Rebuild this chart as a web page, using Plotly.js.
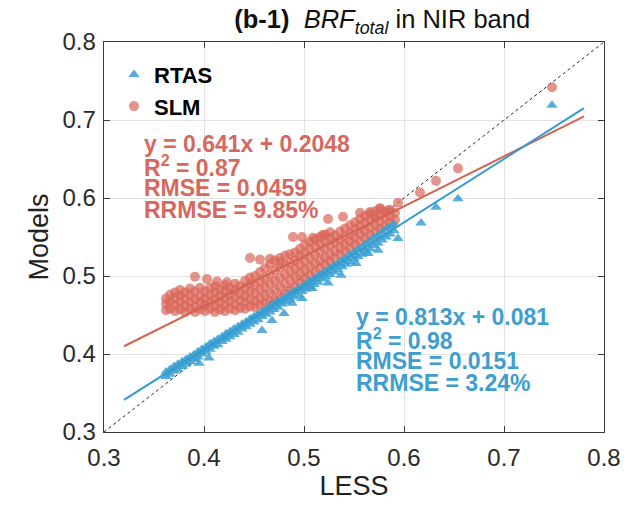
<!DOCTYPE html>
<html>
<head>
<meta charset="utf-8">
<script src="https://cdn.plot.ly/plotly-3.0.1.min.js"></script>
<style>
  html, body { margin: 0; padding: 0; background: #fff; }
  #chart { width: 636px; height: 507px; }
</style>
</head>
<body>
<div id="chart"></div>
<script>
// RTAS model vs LESS reference (NIR band total BRF)
const rtasX = [
  0.362,0.362,0.366,0.366,0.370,0.370,0.374,0.374,0.378,0.378,0.382,0.382,0.386,0.386,0.390,0.390,
  0.394,0.394,0.398,0.398,0.402,0.402,0.406,0.406,0.410,0.410,0.414,0.414,0.418,0.418,0.422,0.422,
  0.426,0.426,0.430,0.430,0.434,0.434,0.438,0.438,0.442,0.442,0.446,0.446,0.450,0.450,0.454,0.454,
  0.458,0.458,0.462,0.462,0.466,0.466,0.470,0.470,0.474,0.474,0.478,0.478,0.482,0.482,0.486,0.486,
  0.490,0.490,0.494,0.494,0.498,0.498,0.502,0.502,0.506,0.506,0.510,0.510,0.514,0.514,0.518,0.518,
  0.522,0.522,0.526,0.526,0.530,0.530,0.534,0.534,0.538,0.538,0.542,0.542,0.546,0.546,0.550,0.550,
  0.554,0.554,0.558,0.558,0.562,0.562,0.566,0.566,0.570,0.570,0.574,0.574,0.578,0.578,0.582,0.582,
  0.586,0.586,0.590,0.590,
  0.395,0.405,0.458,0.468,0.480,0.488,0.498,0.508,0.524,0.537,0.552,0.564,0.574,0.594,0.617,0.632,0.654,0.748
];
const rtasY = [
  0.371,0.377,0.374,0.380,0.378,0.384,0.380,0.387,0.384,0.390,0.387,0.393,0.390,0.396,0.394,0.399,
  0.396,0.403,0.400,0.406,0.403,0.409,0.406,0.413,0.410,0.416,0.412,0.419,0.416,0.422,0.419,0.426,
  0.422,0.429,0.425,0.432,0.428,0.435,0.432,0.438,0.435,0.441,0.438,0.445,0.441,0.448,0.444,0.451,
  0.448,0.454,0.451,0.457,0.454,0.461,0.457,0.464,0.460,0.467,0.464,0.470,0.467,0.473,0.470,0.477,
  0.473,0.480,0.476,0.483,0.480,0.486,0.483,0.490,0.486,0.493,0.489,0.496,0.492,0.500,0.496,0.503,
  0.499,0.506,0.502,0.510,0.505,0.513,0.508,0.516,0.512,0.520,0.515,0.523,0.518,0.527,0.522,0.530,
  0.525,0.534,0.528,0.537,0.532,0.541,0.535,0.545,0.539,0.549,0.542,0.552,0.546,0.556,0.550,0.560,
  0.554,0.563,0.558,0.566,
  0.388,0.395,0.430,0.443,0.452,0.465,0.471,0.484,0.491,0.501,0.516,0.529,0.533,0.548,0.568,0.588,0.599,0.719
];

// SLM model vs LESS reference
const slmX = [
  0.362,0.362,0.362, 0.366,0.366,0.366, 0.371,0.371,0.371,0.371, 0.376,0.376,0.376,0.376,
  0.381,0.381,0.381,0.381, 0.386,0.386,0.386,0.386, 0.391,0.391,0.391,0.391, 0.396,0.396,0.396,0.396,
  0.401,0.401,0.401,0.401, 0.406,0.406,0.406,0.406, 0.411,0.411,0.411,0.411,0.411, 0.416,0.416,0.416,0.416,
  0.421,0.421,0.421,0.421,0.421, 0.426,0.426,0.426,0.426, 0.431,0.431,0.431,0.431,0.431,
  0.436,0.436,0.436,0.436, 0.441,0.441,0.441,0.441,0.441, 0.446,0.446,0.446,0.446,0.446,
  0.451,0.451,0.451,0.451,0.451, 0.456,0.456,0.456,0.456,0.456, 0.461,0.461,0.461,0.461,0.461,
  0.466,0.466,0.466,0.466,0.466, 0.471,0.471,0.471,0.471,0.471, 0.476,0.476,0.476,0.476,0.476,
  0.481,0.481,0.481,0.481,0.481, 0.486,0.486,0.486,0.486,0.486, 0.491,0.491,0.491,0.491,0.491,
  0.496,0.496,0.496,0.496,0.496, 0.501,0.501,0.501,0.501,0.501, 0.506,0.506,0.506,0.506,0.506,
  0.511,0.511,0.511,0.511,0.511, 0.516,0.516,0.516,0.516,0.516, 0.521,0.521,0.521,0.521,0.521,
  0.526,0.526,0.526,0.526,0.526, 0.531,0.531,0.531,0.531, 0.536,0.536,0.536,0.536,
  0.541,0.541,0.541,0.541, 0.546,0.546,0.546,0.546, 0.551,0.551,0.551,0.551, 0.556,0.556,0.556,0.556,
  0.561,0.561,0.561,0.561, 0.566,0.566,0.566,0.566, 0.571,0.571,0.571,0.571, 0.576,0.576,0.576,0.576,
  0.581,0.581,0.581, 0.586,0.586,0.586, 0.591,0.591,
  0.391,0.403,0.413,0.423,0.446,0.456,0.466,0.476,0.489,0.498,0.509,0.519,
  0.524,0.539,0.556,0.566,0.576,0.584,0.570,0.594,0.616,0.632,0.654,0.748
];
const slmY = [
  0.456,0.464,0.471, 0.458,0.467,0.476, 0.455,0.463,0.472,0.479, 0.457,0.466,0.475,0.482,
  0.454,0.462,0.470,0.479, 0.458,0.467,0.476,0.484, 0.454,0.461,0.470,0.480, 0.457,0.466,0.474,0.485,
  0.455,0.463,0.471,0.480, 0.458,0.467,0.476,0.485, 0.454,0.462,0.470,0.479,0.487, 0.457,0.466,0.474,0.483,
  0.455,0.463,0.472,0.481,0.488, 0.458,0.467,0.476,0.485, 0.456,0.464,0.473,0.482,0.490,
  0.459,0.468,0.477,0.487, 0.458,0.466,0.475,0.484,0.494, 0.461,0.470,0.480,0.490,0.498,
  0.460,0.468,0.478,0.488,0.500, 0.463,0.472,0.483,0.494,0.505, 0.465,0.475,0.486,0.497,0.510,
  0.467,0.478,0.490,0.502,0.515, 0.470,0.482,0.494,0.507,0.520, 0.474,0.486,0.498,0.511,0.523,
  0.478,0.490,0.502,0.514,0.526, 0.483,0.495,0.506,0.517,0.528, 0.487,0.499,0.510,0.520,0.530,
  0.492,0.503,0.514,0.525,0.535, 0.497,0.508,0.519,0.530,0.540, 0.501,0.512,0.523,0.534,0.544,
  0.505,0.516,0.527,0.538,0.547, 0.510,0.520,0.531,0.542,0.550, 0.514,0.524,0.535,0.545,0.553,
  0.518,0.528,0.539,0.549,0.556, 0.522,0.532,0.543,0.552, 0.527,0.537,0.547,0.557,
  0.531,0.541,0.551,0.561, 0.535,0.545,0.555,0.565, 0.540,0.550,0.560,0.569, 0.544,0.554,0.564,0.573,
  0.548,0.558,0.568,0.577, 0.552,0.562,0.572,0.580, 0.556,0.566,0.575,0.583, 0.560,0.570,0.579,0.586,
  0.564,0.574,0.582, 0.568,0.577,0.585, 0.572,0.581,
  0.499,0.496,0.493,0.492,0.523,0.521,0.522,0.518,0.550,0.550,0.549,0.553,
  0.573,0.576,0.581,0.582,0.587,0.584,0.578,0.594,0.607,0.622,0.638,0.742
];

// least-squares fits as reported for each model
const fitSlope = { rtas: 0.813, slm: 0.641 };
const fitIntercept = { rtas: 0.081, slm: 0.2048 };
const fitRange = [0.32, 0.78];
const oneToOne = [0.3, 0.8];

const axisTicks = [0.3, 0.4, 0.5, 0.6, 0.7, 0.8];
const axisTickText = ['0.3', '0.4', '0.5', '0.6', '0.7', '0.8'];

const slmStats = ['y = 0.641x + 0.2048', 'R<sup>2</sup> = 0.87', 'RMSE = 0.0459', 'RRMSE = 9.85%'];
const rtasStats = ['y = 0.813x + 0.081', 'R<sup>2</sup> = 0.98', 'RMSE = 0.0151', 'RRMSE = 3.24%'];

const FONT = 'Liberation Sans, Arial, sans-serif';
const RED = 'rgb(218,102,90)';
const BLUE = 'rgb(58,160,210)';
const fitLine = (k) => fitRange.map(x => fitSlope[k] * x + fitIntercept[k]);

const traces = [
  { x: oneToOne, y: oneToOne, mode: 'lines', showlegend: false, hoverinfo: 'skip',
    line: { color: '#222', width: 1, dash: 'dot' } },
  { x: slmX, y: slmY, mode: 'markers', name: 'SLM', legendrank: 2,
    marker: { symbol: 'circle', size: 10, color: RED, opacity: 0.7, line: { width: 0 } } },
  { x: rtasX, y: rtasY, mode: 'markers', name: 'RTAS', legendrank: 1,
    marker: { symbol: 'triangle-up', size: 10, color: BLUE, opacity: 0.85, line: { width: 0 } } },
  { x: fitRange, y: fitLine('slm'), mode: 'lines', showlegend: false,
    line: { color: 'rgb(214,98,82)', width: 2 } },
  { x: fitRange, y: fitLine('rtas'), mode: 'lines', showlegend: false,
    line: { color: 'rgb(50,155,208)', width: 2 } }
];

const statFont = (c) => ({ family: FONT, size: 23, color: c });
const annotations = [];
slmStats.forEach((t, i) => annotations.push({
  xref: 'paper', yref: 'paper', x: 0.076, y: 0.738 - i * 0.0564, xanchor: 'left', yanchor: 'middle',
  text: '<b>' + t + '</b>', showarrow: false, font: statFont('rgb(214,104,94)')
}));
rtasStats.forEach((t, i) => annotations.push({
  xref: 'paper', yref: 'paper', x: 0.5, y: 0.295 - i * 0.0564, xanchor: 'left', yanchor: 'middle',
  text: '<b>' + t + '</b>', showarrow: false, font: statFont('rgb(62,158,206)')
}));

const axisCommon = {
  range: [0.3, 0.8], tickvals: axisTicks, ticktext: axisTickText,
  showgrid: true, gridcolor: '#e3e3e3', gridwidth: 1, zeroline: false,
  showline: true, linecolor: '#3a3a3a', linewidth: 1.4, mirror: 'ticks',
  ticks: 'inside', ticklen: 6, tickcolor: '#3a3a3a',
  tickfont: { family: FONT, size: 24, color: '#2a2a2a' }
};

const layout = {
  width: 636, height: 507,
  margin: { l: 104, r: 32, t: 42, b: 75 },
  paper_bgcolor: '#fff', plot_bgcolor: '#fff',
  title: {
    text: '<b>(b-1)</b>  <i>BRF<sub>total</sub></i> in NIR band',
    x: 0.601, xanchor: 'center', y: 0.962, yanchor: 'middle',
    font: { family: FONT, size: 25.5, color: '#111' }
  },
  xaxis: Object.assign({}, axisCommon, {
    ticklabelstandoff: 4,
    title: { text: 'LESS', standoff: 6, font: { family: FONT, size: 27, color: '#222' } }
  }),
  yaxis: Object.assign({}, axisCommon, {
    ticklabelstandoff: 2,
    title: { text: 'Models', standoff: 6, font: { family: FONT, size: 27, color: '#222' } }
  }),
  legend: {
    x: 0.02, y: 0.97, xanchor: 'left', yanchor: 'top', bgcolor: 'rgba(0,0,0,0)',
    font: { family: FONT, size: 22, color: '#000', weight: 'bold' },
    itemwidth: 30, tracegroupgap: 0
  },
  annotations: annotations,
  showlegend: true
};

Plotly.newPlot('chart', traces, layout, { displayModeBar: false, staticPlot: true });
</script>
</body>
</html>
